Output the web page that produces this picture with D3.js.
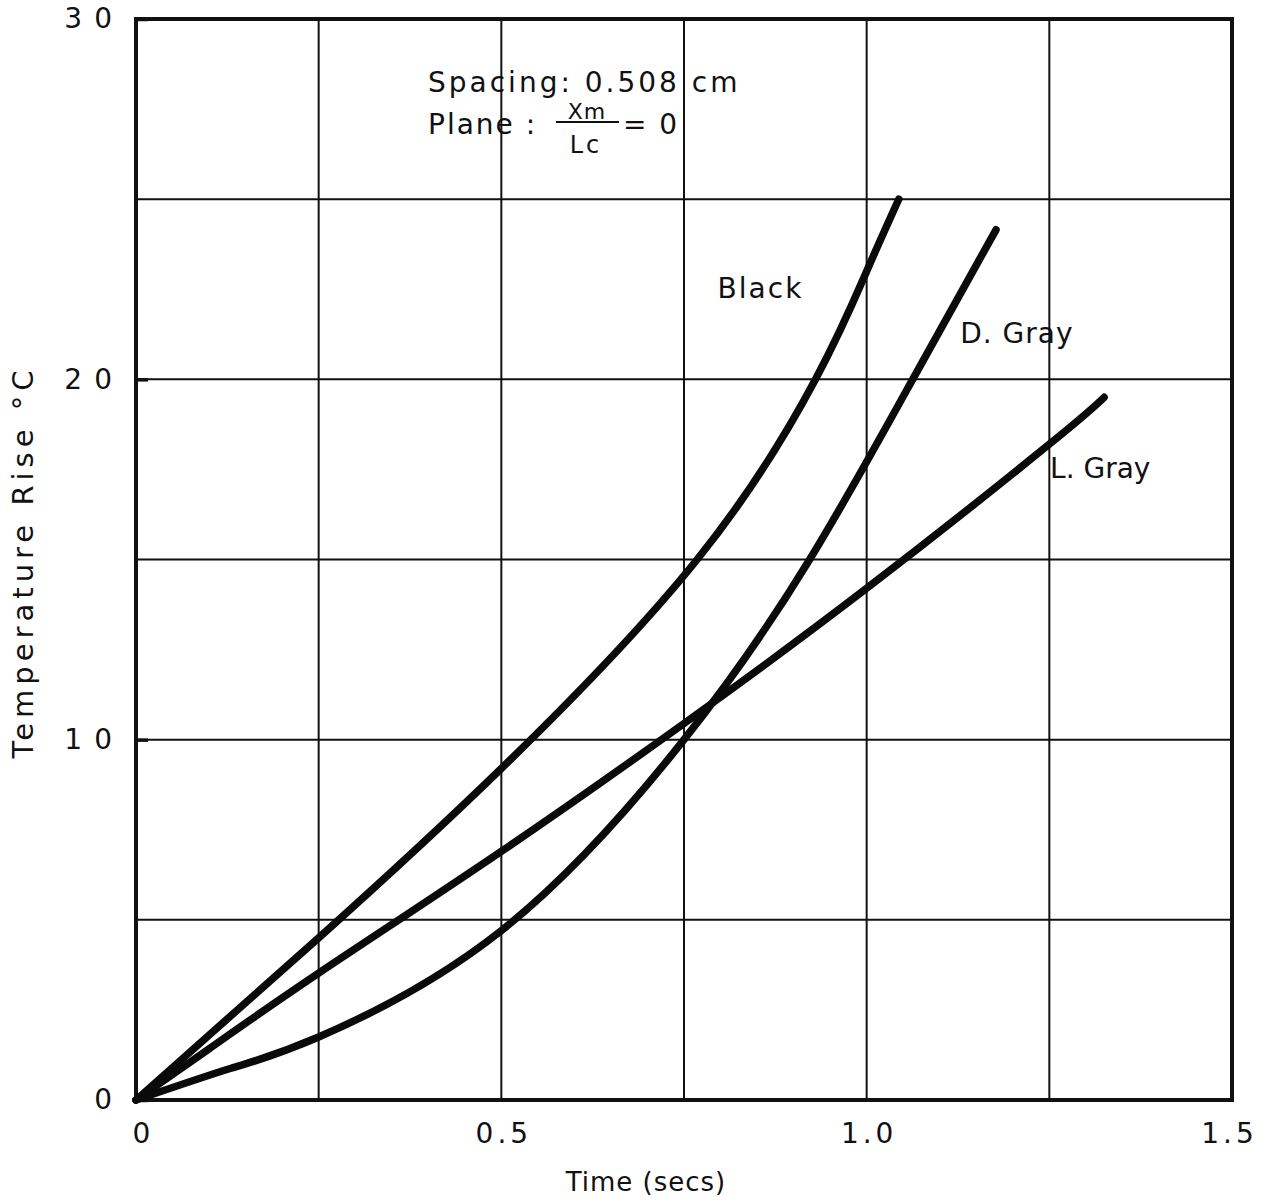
<!DOCTYPE html>
<html>
<head>
<meta charset="utf-8">
<script src="https://cdn.jsdelivr.net/npm/d3@7"></script>
<style>
  html, body { margin: 0; padding: 0; background: #fff; }
  svg { display: block; }
  text { font-family: "DejaVu Sans", "Noto Sans", sans-serif; fill: #111; }
</style>
</head>
<body>
<svg id="chart" width="1269" height="1200"></svg>
<script>
// Axis ticks and labels
const xTickValues = [0, 0.5, 1.0, 1.5];
const xTickLabels = ["0", "0.5", "1.0", "1.5"];
const yTickValues = [0, 10, 20, 30];
const yTickLabels = ["0", "10", "20", "30"];
const xGridValues = [0.25, 0.5, 0.75, 1.0, 1.25];
const yGridValues = [5, 10, 15, 20, 25];

// Temperature rise (°C) against time (s) for each surface
const blackTime = [0, 0.25, 0.5, 0.768, 0.93, 1.0, 1.044];
const blackRise = [0, 4.5, 9.2, 15, 20, 23, 25];

const dGrayTime = [0, 0.13, 0.25, 0.5, 0.75, 0.922, 1.063, 1.177];
const dGrayRise = [0, 0.88, 1.75, 4.7, 10.0, 15, 20, 24.15];

const lGrayTime = [0, 0.1, 0.25, 0.5, 0.75, 1.0, 1.25, 1.325];
const lGrayRise = [0, 1.42, 3.52, 6.9, 10.45, 14.2, 18.2, 19.5];

const seriesNames = ["Black", "D. Gray", "L. Gray"];

const svg = d3.select("#chart");
const plotLeft = 136, plotRight = 1232, plotTop = 19, plotBottom = 1100;

const x = d3.scaleLinear().domain([0, 1.5]).range([plotLeft, plotRight]);
const y = d3.scaleLinear().domain([0, 30]).range([plotBottom, plotTop]);

// Grid lines
const grid = svg.append("g").attr("stroke", "#111").attr("stroke-width", 2);
grid.selectAll("line.vx").data(xGridValues).join("line")
  .attr("x1", d => x(d)).attr("x2", d => x(d))
  .attr("y1", y(30)).attr("y2", y(0));
grid.selectAll("line.hy").data(yGridValues).join("line")
  .attr("x1", x(0)).attr("x2", x(1.5))
  .attr("y1", d => y(d)).attr("y2", d => y(d));

// Frame
svg.append("rect")
  .attr("x", x(0)).attr("y", y(30))
  .attr("width", x(1.5) - x(0)).attr("height", y(0) - y(30))
  .attr("fill", "none").attr("stroke", "#111").attr("stroke-width", 4);

// Bottom axis labels
const xSpacing = 4;
const xAxis = d3.axisBottom(x).tickValues(xTickValues)
  .tickFormat((d, i) => xTickLabels[i]).tickSize(0).tickPadding(23);
const gx = svg.append("g").attr("transform", `translate(0,${plotBottom})`).call(xAxis);
gx.select(".domain").remove();
gx.selectAll("text")
  .attr("font-size", 28).attr("letter-spacing", xSpacing)
  .attr("font-family", "DejaVu Sans").attr("fill", "#111")
  .attr("dx", (d, i) => xSpacing / 2 + (i === 0 ? 5 : (i === 3 ? -5 : 0)));

// Left axis labels with short inward ticks
const ySpacing = 12;
const yAxis = d3.axisLeft(y).tickValues(yTickValues)
  .tickFormat((d, i) => yTickLabels[i]).tickSizeInner(-12).tickSizeOuter(0).tickPadding(12);
const gy = svg.append("g").attr("transform", `translate(${plotLeft},0)`).call(yAxis);
gy.select(".domain").remove();
gy.selectAll(".tick line").attr("stroke", "#111").attr("stroke-width", 3.5);
gy.selectAll("text")
  .attr("font-size", 28).attr("letter-spacing", ySpacing)
  .attr("font-family", "DejaVu Sans").attr("fill", "#111");

// Axis titles
svg.append("text")
  .attr("x", 646).attr("y", 1191)
  .attr("text-anchor", "middle")
  .attr("font-size", 26).attr("letter-spacing", 1)
  .text("Time (secs)");

svg.append("text")
  .attr("transform", "translate(33,562) rotate(-90)")
  .attr("text-anchor", "middle")
  .attr("font-size", 29).attr("letter-spacing", 5)
  .text("Temperature Rise °C");

// Curves (smooth spline through the read points)
const line = d3.line().x(d => x(d[0])).y(d => y(d[1])).curve(d3.curveNatural);
const series = [
  d3.zip(blackTime, blackRise),
  d3.zip(dGrayTime, dGrayRise),
  d3.zip(lGrayTime, lGrayRise)
];
svg.append("g").selectAll("path").data(series).join("path")
  .attr("d", line)
  .attr("fill", "none").attr("stroke", "#0a0a0a")
  .attr("stroke-width", 7.5).attr("stroke-linecap", "round")
  .attr("stroke-linejoin", "round");

// Curve labels
const labelPos = [[0.796, 22.26], [1.128, 21.0], [1.251, 17.26]];
const labelSpacing = [2, 1, 0];
svg.append("g").selectAll("text").data(seriesNames).join("text")
  .attr("x", (d, i) => x(labelPos[i][0]))
  .attr("y", (d, i) => y(labelPos[i][1]))
  .attr("font-size", 28).attr("letter-spacing", (d, i) => labelSpacing[i])
  .text(d => d);

// Note: spacing and measurement plane
svg.append("text")
  .attr("x", 428).attr("y", 92)
  .attr("font-size", 28).attr("letter-spacing", 3)
  .text("Spacing: 0.508 cm");
svg.append("text")
  .attr("x", 428).attr("y", 134)
  .attr("font-size", 28).attr("letter-spacing", 2)
  .text("Plane :");
svg.append("text")
  .attr("x", 587).attr("y", 119)
  .attr("text-anchor", "middle")
  .attr("font-size", 22).attr("letter-spacing", 1)
  .text("Xm");
svg.append("line")
  .attr("x1", 556).attr("x2", 619).attr("y1", 122).attr("y2", 122)
  .attr("stroke", "#111").attr("stroke-width", 2);
svg.append("text")
  .attr("x", 586).attr("y", 153)
  .attr("text-anchor", "middle")
  .attr("font-size", 24).attr("letter-spacing", 3)
  .text("Lc");
svg.append("text")
  .attr("x", 623).attr("y", 134)
  .attr("font-size", 28).attr("letter-spacing", 2)
  .text("= 0");
</script>
</body>
</html>
